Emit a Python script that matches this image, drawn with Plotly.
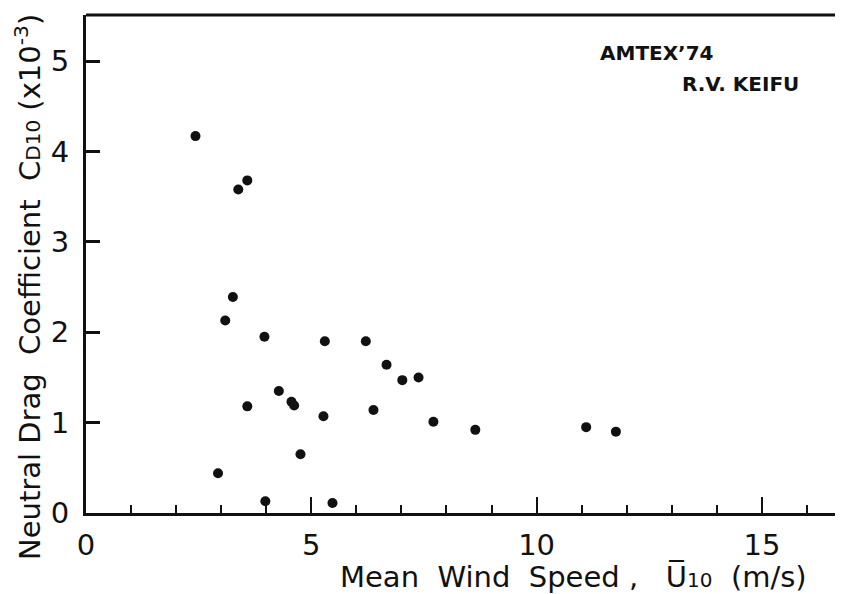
import plotly.graph_objects as go

# Mean wind speed U10 (m/s) and neutral drag coefficient CD10 (x10^-3)
wind_speed = [2.43, 3.58, 3.38, 3.26, 3.09, 3.96, 5.30, 6.21, 6.67, 7.02, 7.38,
              4.28, 4.56, 4.62, 3.58, 2.93, 3.98, 4.76, 5.27, 6.38, 7.71, 8.64,
              11.10, 11.76, 5.47]
drag_coef = [4.17, 3.68, 3.58, 2.39, 2.13, 1.95, 1.90, 1.90, 1.64, 1.47, 1.50,
             1.35, 1.23, 1.19, 1.18, 0.44, 0.13, 0.65, 1.07, 1.14, 1.01, 0.92,
             0.95, 0.90, 0.11]

x_ticks = [0, 5, 10, 15]
y_ticks = [0, 1, 2, 3, 4, 5]

FONT = "DejaVu Sans"
INK = "#111111"

fig = go.Figure()
fig.add_trace(go.Scatter(
    x=wind_speed, y=drag_coef, mode="markers",
    marker=dict(color=INK, size=10, line=dict(width=0)),
    showlegend=False,
))

# page body has an 8px margin; plot area placed at screen x 86-843, y 15-513
fig.update_layout(
    width=835, height=586,
    margin=dict(l=78, r=0, t=7, b=81),
    paper_bgcolor="white", plot_bgcolor="white",
    font=dict(family=FONT, color=INK),
    xaxis=dict(
        range=[0, 16.8], tickvals=x_ticks, ticks="inside", ticklen=16, tickwidth=2,
        tickcolor=INK, showline=True, linewidth=2.5, linecolor=INK,
        showgrid=False, zeroline=False,
        tickfont=dict(size=29, family=FONT), ticklabelstandoff=4,
        minor=dict(dtick=1, ticks="inside", ticklen=8, tickwidth=2, tickcolor=INK, showgrid=False),
    ),
    yaxis=dict(
        range=[0, 5.51], tickvals=y_ticks, ticks="inside", ticklen=14, tickwidth=2.5,
        tickcolor=INK, showline=True, linewidth=3, linecolor=INK,
        showgrid=False, zeroline=False,
        tickfont=dict(size=29, family=FONT), ticklabelstandoff=8,
    ),
)

# top border line
fig.add_shape(type="line", xref="paper", yref="paper", x0=0, x1=1, y0=1, y1=1,
              line=dict(color=INK, width=3))

def px_x(sx):
    return (sx - 86) / 757

def px_y(sy):
    return (513 - sy) / 498

fig.add_annotation(
    xref="paper", yref="paper", x=px_x(28), y=px_y(287), showarrow=False, textangle=-90,
    text="Neutral Drag  Coefficient  C<span style='font-size:20px'>D10</span> (x10<sup>-3</sup>)",
    font=dict(size=29, family=FONT), xanchor="center", yanchor="middle",
)
fig.add_annotation(
    xref="paper", yref="paper", x=px_x(573), y=px_y(577), showarrow=False,
    text="Mean  Wind  Speed ,   U\u0305<span style='font-size:20px'>10</span>  (m/s)",
    font=dict(size=29, family=FONT), xanchor="center", yanchor="middle",
)
fig.add_annotation(
    xref="paper", yref="paper", x=px_x(657), y=px_y(53), showarrow=False,
    text="<b>AMTEX\u201974</b>", font=dict(size=20, family=FONT),
    xanchor="center", yanchor="middle",
)
fig.add_annotation(
    xref="paper", yref="paper", x=px_x(740), y=px_y(84), showarrow=False,
    text="<b>R.V. KEIFU</b>", font=dict(size=20, family=FONT),
    xanchor="center", yanchor="middle",
)

fig.write_html("out.html")
